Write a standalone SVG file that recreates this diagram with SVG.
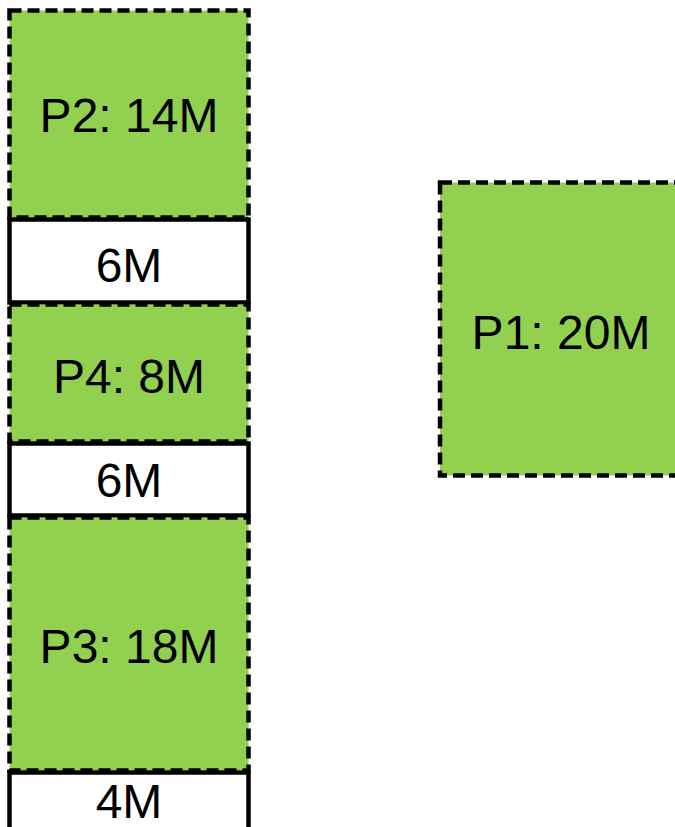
<svg xmlns="http://www.w3.org/2000/svg" width="675" height="827" viewBox="0 0 675 827">
<style>
.proc{fill:#92D050;stroke:#000;stroke-width:4.5;stroke-dasharray:12 6}
.hole{fill:#fff;stroke:#000;stroke-width:4.5}
text{font-family:"Liberation Sans",Arial,sans-serif;font-size:48px;fill:#000;text-anchor:middle}
</style>
<rect width="675" height="827" fill="#fff"/>
<g id="connectors"/>
<g id="P2"><rect class="proc" x="9.5" y="10.5" width="239" height="207"/><text x="129" y="132">P2: 14M</text></g>
<g id="hole1"><rect class="hole" x="9.5" y="219.5" width="239" height="83"/><text x="129" y="282">6M</text></g>
<g id="P4"><rect class="proc" x="9.5" y="304.5" width="239" height="137"/><text x="129" y="393">P4: 8M</text></g>
<g id="hole2"><rect class="hole" x="9.5" y="443.5" width="239" height="72"/><text x="129" y="497">6M</text></g>
<g id="P3"><rect class="proc" x="9.5" y="517.5" width="239" height="253"/><text x="129" y="663">P3: 18M</text></g>
<g id="hole3"><rect class="hole" x="9.5" y="772.5" width="239" height="70"/><text x="129" y="818">4M</text></g>
<g id="P1"><rect class="proc" x="440" y="182.5" width="244" height="293"/><text x="561" y="349">P1: 20M</text></g>
</svg>
